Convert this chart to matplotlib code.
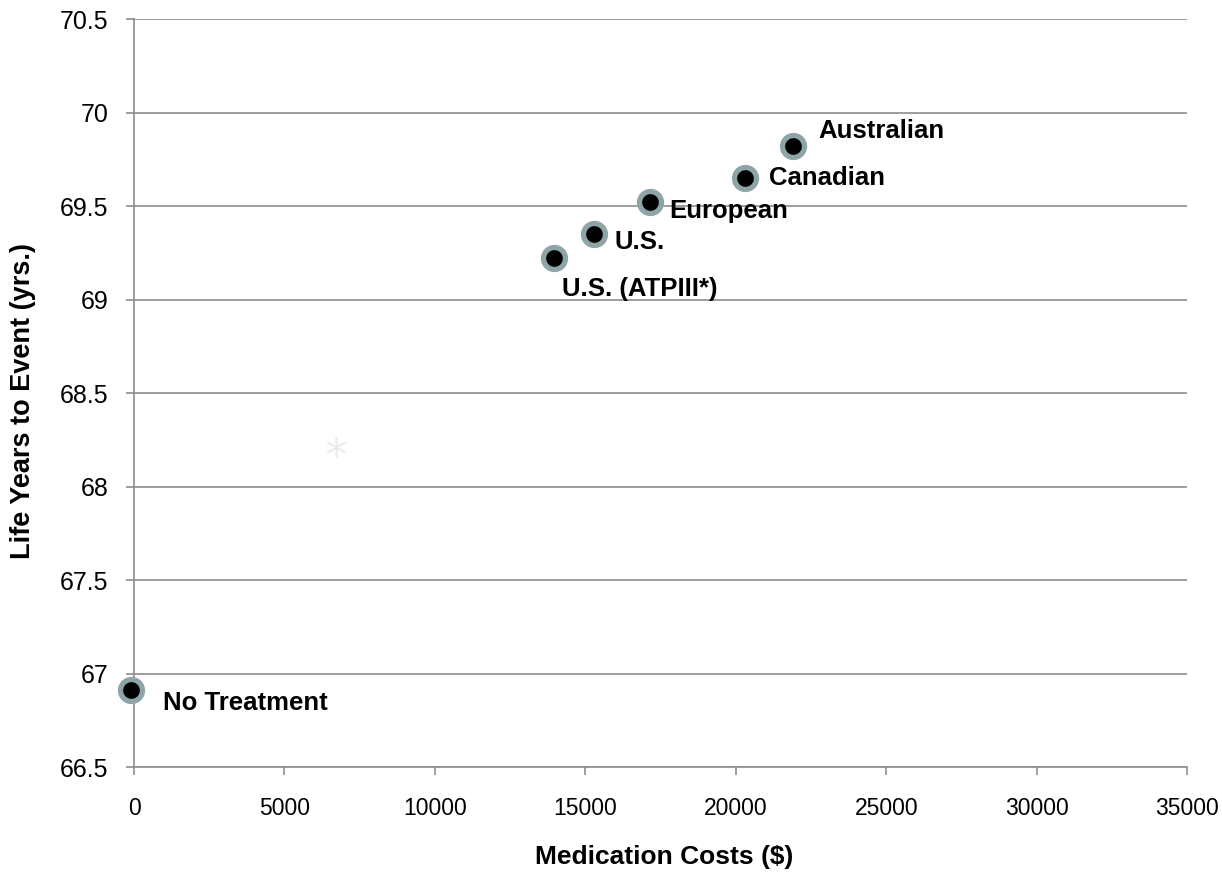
import matplotlib.pyplot as plt

plt.rcParams['font.family'] = ['Liberation Sans', 'DejaVu Sans']

# guideline scenarios: cost vs life years to event
names = ['No Treatment', 'U.S. (ATPIII*)', 'U.S.', 'European', 'Canadian', 'Australian']
costs = [-100, 13960, 15290, 17150, 20310, 21910]
years = [66.91, 69.22, 69.35, 69.52, 69.65, 69.82]
# label offsets in points (dx, dy)
offsets = [(23, -9), (6, -22), (15, -6), (14, -6), (17, 0), (18, 11)]

# faint reference marker
ref_cost = [6700]
ref_years = [68.21]

fig = plt.figure(figsize=(12.22, 8.72), dpi=100)
ax = fig.add_axes([0.1097, 0.1204, 0.8617, 0.8578])

ax.scatter(ref_cost, ref_years, marker=(6, 2, 0), s=200, color='#ececec', linewidths=1.2, zorder=2)
ax.scatter(costs, years, s=250, color='black', edgecolors='#8ea4a6', linewidths=3.8, zorder=4, clip_on=False)

for n, x, y, (dx, dy) in zip(names, costs, years, offsets):
    ax.annotate(n, (x, y), xytext=(dx, dy), textcoords='offset points',
                ha='left', va='center', fontsize=18.5, fontweight='bold',
                annotation_clip=False)

ax.set_xlim(0, 35000)
ax.set_ylim(66.5, 70.5)
ax.set_xticks(range(0, 35001, 5000))
ax.set_yticks([66.5, 67, 67.5, 68, 68.5, 69, 69.5, 70, 70.5])
ax.set_yticklabels(['66.5', '67', '67.5', '68', '68.5', '69', '69.5', '70', '70.5'])
ax.yaxis.grid(True, color='#8c8c8c', linewidth=1.2)
ax.set_axisbelow(True)

for s in ['top', 'right']:
    ax.spines[s].set_visible(False)
for s in ['left', 'bottom']:
    ax.spines[s].set_color('#8c8c8c')
    ax.spines[s].set_linewidth(1.2)
ax.tick_params(axis='both', colors='#8c8c8c', width=1.2, length=5.5, labelcolor='black')
ax.tick_params(axis='y', pad=13, labelsize=18)
ax.tick_params(axis='x', pad=16, labelsize=16.5)

ax.set_xlabel('Medication Costs ($)', fontsize=19, fontweight='bold')
ax.set_ylabel('Life Years to Event (yrs.)', fontsize=19.5, fontweight='bold')
ax.xaxis.set_label_coords(0.503, -0.104)
ax.yaxis.set_label_coords(-0.093, 0.489)

fig.savefig('out.png', dpi=100)
